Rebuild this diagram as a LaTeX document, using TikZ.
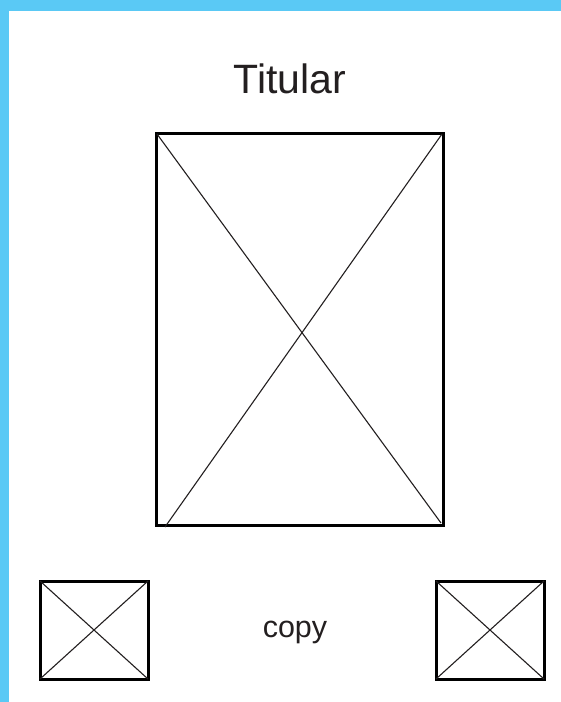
\documentclass[tikz,border=0pt]{standalone}
\usepackage{fontspec}
\setmainfont{Liberation Sans}
\definecolor{bgblue}{HTML}{5AC9F5}
\definecolor{ink}{HTML}{231F20}
\begin{document}
\begin{tikzpicture}[x=1pt,y=-1pt,
  frame/.style={draw=black,line width=3pt},
  diag/.style={draw=ink,line width=1.1pt},
  label/.style={text=ink,anchor=base,inner sep=0pt}]
\useasboundingbox (0,0) rectangle (561,702);
\fill[bgblue] (0,0) rectangle (561,702);
\fill[white] (9,11) rectangle (561,702);
% title
\node[label,font=\fontsize{41}{41}\selectfont] (title) at (290,93) {Titular};
% main box
\coordinate (mtl) at (156,133);
\coordinate (mbr) at (443,525);
\coordinate (mtr) at (443,133);
\coordinate (mbl) at (165,527);
\draw[frame] (mtl) rectangle (mbr);
\draw[diag] (157,134) coordinate (d1a) -- (441,523) coordinate (d1b);
\draw[diag] (442,134) coordinate (d2a) -- (mbl);
% small left box
\coordinate (ltl) at (40,581);
\coordinate (lbr) at (148,679);
\draw[frame] (ltl) rectangle (lbr);
\draw[diag] (ltl) -- (lbr);
\draw[diag] (40,679) coordinate (lbl) -- (148,581) coordinate (ltr);
% small right box
\coordinate (rtl) at (436,581);
\coordinate (rbr) at (544,679);
\draw[frame] (rtl) rectangle (rbr);
\draw[diag] (rtl) -- (rbr);
\draw[diag] (436,679) coordinate (rbl) -- (544,581) coordinate (rtr);
% copy
\node[label,font=\fontsize{30.5}{30.5}\selectfont] (copy) at (295,637) {copy};
\end{tikzpicture}
\end{document}
